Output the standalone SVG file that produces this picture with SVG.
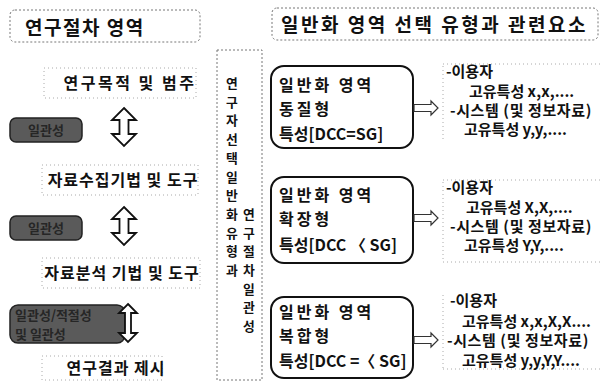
<svg xmlns="http://www.w3.org/2000/svg" width="607" height="382" viewBox="0 0 607 382">
<style>
text{font-family:"Noto Sans CJK KR","Noto Sans",sans-serif;font-weight:bold;fill:#111;}
.hdr{font-size:19px;}
.step{font-size:16px;text-anchor:middle;}
.dashbox{fill:none;stroke:#777;stroke-width:1;stroke-dasharray:2 2;}
.dot{fill:none;stroke:#aaa;stroke-width:1;stroke-dasharray:1 3;}
.dark{fill:#5a5a5a;stroke:#222;stroke-width:1.5;}
.darkt{font-size:13px;fill:#262626;}
.card{fill:#fff;stroke:#111;stroke-width:2;}
.cardt{font-size:16px;}
.wide{letter-spacing:3px;}
.vt{font-size:12.8px;text-anchor:middle;}
.rt{font-size:15px;}
.arr{fill:#fff;stroke:#111;stroke-width:1.8;stroke-linejoin:miter;}
.sarr{fill:#fff;stroke:#333;stroke-width:1.2;}
</style>
<rect width="607" height="382" fill="#fff"/>

<g id="header-left">
<rect class="dashbox" x="10" y="10" width="190" height="32" rx="5"/>
<text class="hdr" x="25" y="35" letter-spacing="1.5">연구절차 영역</text>
</g>
<g id="header-right">
<rect class="dashbox" x="272" y="8" width="326" height="32" rx="5"/>
<text class="hdr" x="281" y="32" letter-spacing="2.5">일반화 영역 선택 유형과 관련요소</text>
</g>

<g id="step1">
<rect class="dot" x="44" y="68" width="152" height="30"/>
<text class="step" x="130" y="89" letter-spacing="2.5">연구목적 및 범주</text>
</g>
<g id="step2">
<rect class="dot" x="42" y="165" width="156" height="30"/>
<text class="step" x="123" y="186" letter-spacing="1">자료수집기법 및 도구</text>
</g>
<g id="step3">
<rect class="dot" x="42" y="258" width="158" height="30"/>
<text class="step" x="122" y="279" letter-spacing="1">자료분석 기법 및 도구</text>
</g>
<g id="step4">
<rect class="dot" x="42" y="356" width="120" height="24"/>
<text class="step" x="116" y="374" letter-spacing="1">연구결과 제시</text>
</g>

<g id="consistency1">
<rect class="dark" x="10" y="118" width="72" height="24" rx="6"/>
<text class="darkt" x="46" y="135" text-anchor="middle">일관성</text>
</g>
<g id="consistency2">
<rect class="dark" x="10" y="216" width="72" height="24" rx="6"/>
<text class="darkt" x="46" y="233" text-anchor="middle">일관성</text>
</g>
<g id="consistency3">
<rect class="dark" x="10" y="305" width="115" height="38" rx="8"/>
<text class="darkt" x="15" y="320" font-size="12.5">일관성/적절성</text>
<text class="darkt" x="15" y="339" font-size="12.5">및 일관성</text>
</g>

<g id="vertical-label">
<rect class="dashbox" x="217" y="50" width="45" height="330"/>
<text class="vt" x="232" y="88">연</text>
<text class="vt" x="232" y="106.7">구</text>
<text class="vt" x="232" y="125.4">자</text>
<text class="vt" x="232" y="144.1">선</text>
<text class="vt" x="232" y="162.8">택</text>
<text class="vt" x="232" y="181.5">일</text>
<text class="vt" x="232" y="200.2">반</text>
<text class="vt" x="232" y="218.9">화</text>
<text class="vt" x="232" y="237.6">유</text>
<text class="vt" x="232" y="256.3">형</text>
<text class="vt" x="232" y="275">과</text>
<text class="vt" x="249" y="218.9">연</text>
<text class="vt" x="249" y="237.6">구</text>
<text class="vt" x="249" y="256.3">절</text>
<text class="vt" x="249" y="275">차</text>
<text class="vt" x="249" y="293.7">일</text>
<text class="vt" x="249" y="312.4">관</text>
<text class="vt" x="249" y="331.1">성</text>
</g>

<g id="type1">
<rect class="card" x="271" y="66" width="142" height="82" rx="13"/>
<text class="cardt wide" x="279" y="91">일반화 영역</text>
<text class="cardt wide" x="279" y="115">동질형</text>
<text class="cardt" x="279" y="140">특성[DCC=SG]</text>
</g>
<g id="type2">
<rect class="card" x="271" y="177" width="142" height="86" rx="13"/>
<text class="cardt wide" x="279" y="201">일반화 영역</text>
<text class="cardt wide" x="279" y="225">확장형</text>
<text class="cardt" x="279" y="251">특성[DCC 〈 SG]</text>
</g>
<g id="type3">
<rect class="card" x="271" y="297" width="142" height="81" rx="13"/>
<text class="cardt wide" x="279" y="318">일반화 영역</text>
<text class="cardt wide" x="279" y="342">복합형</text>
<text class="cardt" x="279" y="367">특성[DCC =〈 SG]</text>
</g>

<g id="elements1">
<path class="dot" d="M443,66 L443,140 M443,64 L600,64"/>
<text class="rt" x="446" y="77">-이용자</text>
<text class="rt" x="469" y="97">고유특성 x,x,....</text>
<text class="rt" x="450" y="116" letter-spacing="0.6">-시스템 (및 정보자료)</text>
<text class="rt" x="464" y="135">고유특성 y,y,....</text>
</g>
<g id="elements2">
<path class="dot" d="M443,182 L443,262 L600,262 M443,180 L600,180"/>
<text class="rt" x="446" y="193">-이용자</text>
<text class="rt" x="466" y="213">고유특성 X,X,....</text>
<text class="rt" x="450" y="232" letter-spacing="0.6">-시스템 (및 정보자료)</text>
<text class="rt" x="464" y="251">고유특성 Y,Y,....</text>
</g>
<g id="elements3">
<path class="dot" d="M443,295 L443,370 M443,369 L600,369"/>
<text class="rt" x="450" y="306">-이용자</text>
<text class="rt" x="462" y="327">고유특성 x,x,X,X....</text>
<text class="rt" x="447" y="346" letter-spacing="0.6">-시스템 (및 정보자료)</text>
<text class="rt" x="462" y="366">고유특성 y,y,Y,Y....</text>
</g>

<g id="connectors">
<path class="arr" d="M124,108 L136,120 L128.5,120 L128.5,134 L136,134 L124,146 L112,134 L119.5,134 L119.5,120 L112,120 Z"/>
<path class="arr" d="M124,207 L136,219 L128.5,219 L128.5,233 L136,233 L124,245 L112,233 L119.5,233 L119.5,219 L112,219 Z"/>
<path class="arr" d="M128,304 L137,313 L131,313 L131,333 L137,333 L128,342 L119,333 L125,333 L125,313 L119,313 Z"/>
<path class="sarr" d="M414,104.5 L431,104.5 L431,101 L438,108 L431,115 L431,111.5 L414,111.5 Z"/>
<path class="sarr" d="M414,214.5 L431,214.5 L431,211 L438,218 L431,225 L431,221.5 L414,221.5 Z"/>
<path class="sarr" d="M414,336.5 L431,336.5 L431,333 L438,340 L431,347 L431,343.5 L414,343.5 Z"/>
</g>
</svg>
